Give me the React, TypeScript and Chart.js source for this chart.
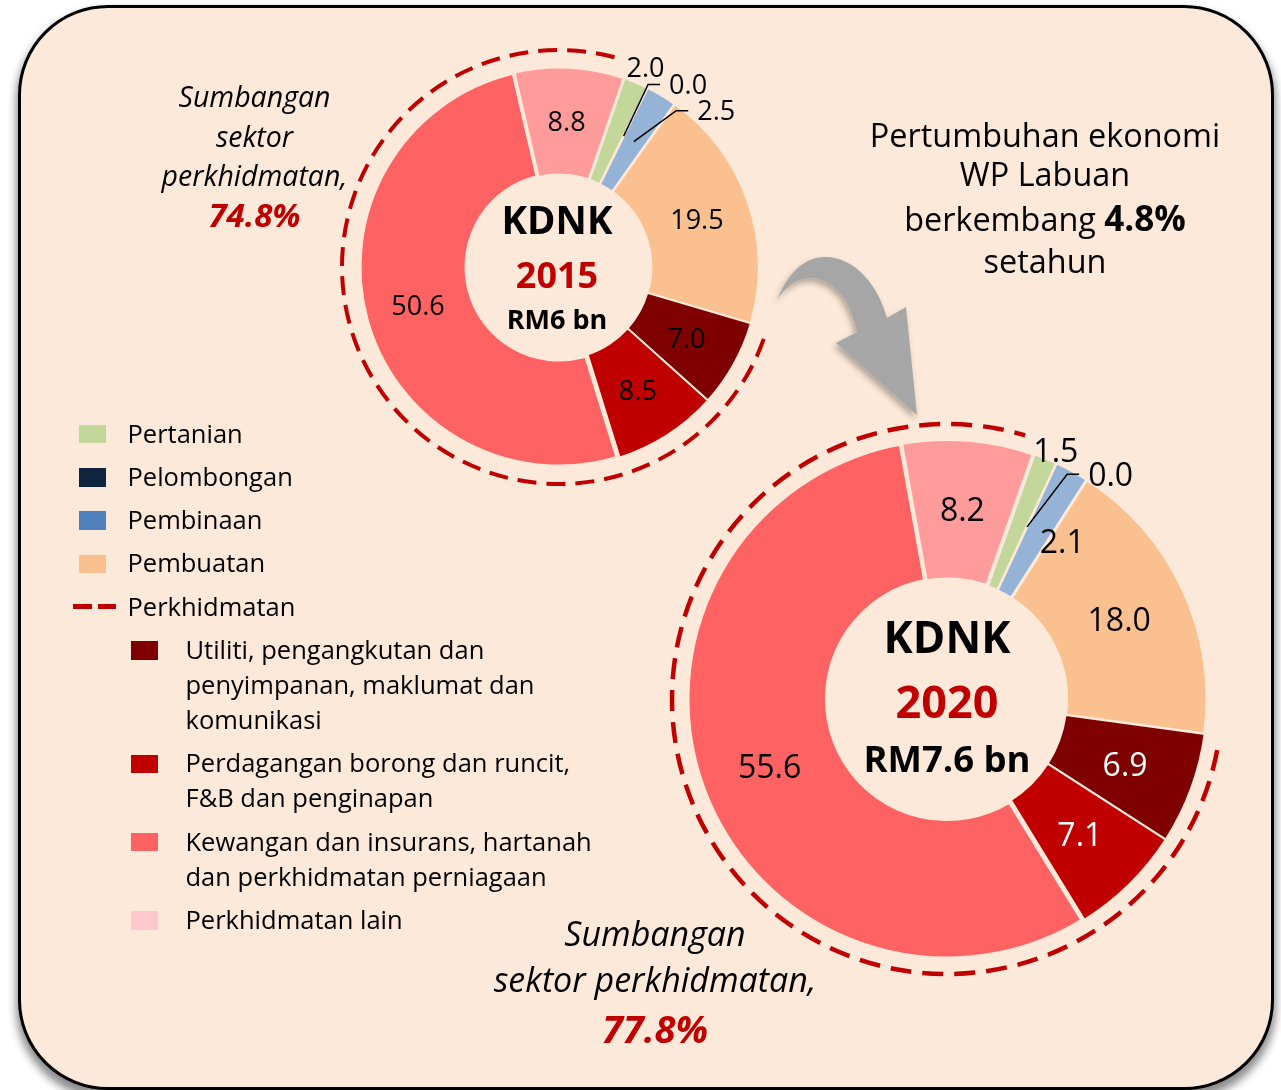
import React, { useEffect, useRef } from "react";
import { Chart, registerables } from "chart.js";

Chart.register(...registerables);

// ---------- data ----------
const sectorNames = [
  "Pertanian",
  "Pelombongan",
  "Pembinaan",
  "Pembuatan",
  "Utiliti, pengangkutan dan penyimpanan, maklumat dan komunikasi",
  "Perdagangan borong dan runcit, F&B dan penginapan",
  "Kewangan dan insurans, hartanah dan perkhidmatan perniagaan",
  "Perkhidmatan lain",
];
const values2015 = [2.0, 0.0, 2.5, 19.5, 7.0, 8.5, 50.6, 8.8];
const values2020 = [1.5, 0.0, 2.1, 18.0, 6.9, 7.1, 55.6, 8.2];
const servicesFirst = 4;
const servicesLast = 7;

const sliceColors = ["#C4D79B", "#10243E", "#95B3D7", "#FAC090", "#7F0000", "#C00000", "#FF6262", "#FF9B9B"];
const legendColors = ["#C4D79B", "#10243E", "#4F81BD", "#FAC090", "#7F0000", "#C00000", "#FF6262", "#FFC7CE"];

const mainLegend = [["Pertanian"], ["Pelombongan"], ["Pembinaan"], ["Pembuatan"]];
const servicesLegendTitle = "Perkhidmatan";
const subLegend = [
  ["Utiliti, pengangkutan dan", "penyimpanan, maklumat dan", "komunikasi"],
  ["Perdagangan borong dan runcit,", "F&B dan penginapan"],
  ["Kewangan dan insurans, hartanah", "dan perkhidmatan perniagaan"],
  ["Perkhidmatan lain"],
];

const centre2015 = ["KDNK", "2015", "RM6 bn"];
const centre2020 = ["KDNK", "2020", "RM7.6 bn"];
const share2015 = "74.8%";
const share2020 = "77.8%";
const growth = "4.8%";

// ---------- styles ----------
const FONT = '"Open Sans", "Noto Sans", sans-serif';
const BG = "#FDE9D9";
const RED = "#C00000";

type Place = { mode: "in" | "out"; ext?: number; dx?: number; dy?: number; leader?: boolean; color?: string };

const place2015: Place[] = [
  { mode: "out", ext: 17, dx: 3, dy: 1 },
  { mode: "out", ext: 17, dx: 33, dy: 12, leader: true },
  { mode: "out", ext: 17, dx: 46, dy: 30, leader: true },
  { mode: "in" },
  { mode: "in" },
  { mode: "in" },
  { mode: "in" },
  { mode: "in" },
];
const place2020: Place[] = [
  { mode: "out", ext: 12, dx: 6, dy: 3 },
  { mode: "out", ext: 12, dx: 49, dy: 22, leader: true },
  { mode: "in", dx: 24, dy: 9 },
  { mode: "in" },
  { mode: "in", color: "#FFFFFF" },
  { mode: "in", color: "#FFFFFF" },
  { mode: "in" },
  { mode: "in" },
];

type CentreLine = { size: number; dy: number; dx: number; color: string };
const centreStyle2015: CentreLine[] = [
  { size: 38.5, dy: -47, dx: -2, color: "#000" },
  { size: 36, dy: 8, dx: -2, color: RED },
  { size: 27, dy: 52, dx: -2, color: "#000" },
];
const centreStyle2020: CentreLine[] = [
  { size: 44, dy: -62, dx: 0, color: "#000" },
  { size: 45, dy: 3, dx: 0, color: RED },
  { size: 36.5, dy: 59.5, dx: 0, color: "#000" },
];

type DonutCfg = {
  values: number[];
  rotation: number;
  radius: number;
  size: number;
  cx: number;
  cy: number;
  places: Place[];
  labelSize: number;
  ringGap: number;
  ringWidth: number;
  dash: number[];
  centre: string[];
  centreStyle: CentreLine[];
  borderWidths: number[];
};

function overlayPlugin(cfg: DonutCfg) {
  return {
    id: "overlay",
    afterDatasetsDraw(chart: any) {
      const ctx: CanvasRenderingContext2D = chart.ctx;
      const arcs = chart.getDatasetMeta(0).data as any[];
      const a0 = arcs[0];
      const cx = a0.x;
      const cy = a0.y;
      const outer = a0.outerRadius;
      const inner = a0.innerRadius;
      const midR = (outer + inner) / 2;

      // dashed ring around the services slices
      const inset = (3 * Math.PI) / 180;
      ctx.save();
      ctx.strokeStyle = RED;
      ctx.lineWidth = cfg.ringWidth;
      ctx.setLineDash(cfg.dash);
      ctx.beginPath();
      ctx.arc(cx, cy, outer + cfg.ringGap, arcs[servicesFirst].startAngle + inset, arcs[servicesLast].endAngle - inset);
      ctx.stroke();
      ctx.restore();

      // value labels
      ctx.save();
      ctx.font = `${cfg.labelSize}px ${FONT}`;
      ctx.textAlign = "center";
      ctx.textBaseline = "alphabetic";
      arcs.forEach((arc: any, i: number) => {
        const p = cfg.places[i];
        const mid = (arc.startAngle + arc.endAngle) / 2;
        const r = p.mode === "in" ? midR : outer + (p.ext || 0);
        const x = cx + r * Math.cos(mid) + (p.dx || 0);
        const y = cy + r * Math.sin(mid) + (p.dy || 0);
        const text = cfg.values[i].toFixed(1);
        ctx.fillStyle = p.color || "#000";
        ctx.fillText(text, x, y + 0.357 * cfg.labelSize);
        if (p.leader) {
          const w = ctx.measureText(text).width;
          const left = x - w / 2;
          ctx.save();
          ctx.strokeStyle = "#000";
          ctx.lineWidth = 1.5;
          ctx.beginPath();
          ctx.moveTo(left - 9, y);
          ctx.lineTo(left - 21, y);
          ctx.lineTo(cx + midR * Math.cos(mid), cy + midR * Math.sin(mid));
          ctx.stroke();
          ctx.restore();
        }
      });
      ctx.restore();

      // centre text
      ctx.save();
      ctx.textAlign = "center";
      ctx.textBaseline = "alphabetic";
      cfg.centre.forEach((t, i) => {
        const st = cfg.centreStyle[i];
        ctx.font = `bold ${st.size}px ${FONT}`;
        ctx.fillStyle = st.color;
        ctx.fillText(t, cx + st.dx, cy + st.dy + 0.357 * st.size);
      });
      ctx.restore();
    },
  };
}

function Donut({ cfg }: { cfg: DonutCfg }) {
  const ref = useRef<HTMLCanvasElement>(null);
  useEffect(() => {
    const chart = new Chart(ref.current as HTMLCanvasElement, {
      type: "doughnut",
      data: {
        labels: sectorNames,
        datasets: [
          {
            data: cfg.values,
            backgroundColor: sliceColors,
            borderColor: BG,
            borderWidth: cfg.borderWidths,
          },
        ],
      },
      options: {
        responsive: false,
        animation: false,
        rotation: cfg.rotation,
        radius: cfg.radius,
        cutout: "46%",
        layout: { padding: 0 },
        events: [],
        plugins: { legend: { display: false }, tooltip: { enabled: false } },
      } as any,
      plugins: [overlayPlugin(cfg) as any],
    });
    return () => chart.destroy();
  }, []);
  return (
    <canvas
      ref={ref}
      width={cfg.size}
      height={cfg.size}
      style={{
        position: "absolute",
        left: cfg.cx - cfg.size / 2,
        top: cfg.cy - cfg.size / 2,
        width: cfg.size,
        height: cfg.size,
      }}
    />
  );
}

const cfg2015: DonutCfg = {
  values: values2015,
  rotation: 19,
  radius: 200,
  size: 520,
  cx: 559,
  cy: 267,
  places: place2015,
  labelSize: 27,
  ringGap: 17,
  ringWidth: 4,
  dash: [19, 10],
  centre: centre2015,
  centreStyle: centreStyle2015,
  borderWidths: [2.5, 2.5, 2.5, 2.5, 2, 2, 5, 3],
};
const cfg2020: DonutCfg = {
  values: values2020,
  rotation: 19.5,
  radius: 260,
  size: 640,
  cx: 947,
  cy: 699,
  places: place2020,
  labelSize: 32,
  ringGap: 15,
  ringWidth: 4.5,
  dash: [21, 11],
  centre: centre2020,
  centreStyle: centreStyle2020,
  borderWidths: [2.5, 2.5, 2.5, 3, 2, 2, 5, 4],
};

function TextLine({
  cx,
  baseline,
  size,
  children,
  style,
}: {
  cx: number;
  baseline: number;
  size: number;
  children: React.ReactNode;
  style?: React.CSSProperties;
}) {
  const lh = size * 1.4;
  const top = baseline - lh / 2 - 0.388 * size;
  return (
    <div
      style={{
        position: "absolute",
        left: cx - 300,
        width: 600,
        top,
        textAlign: "center",
        fontFamily: FONT,
        fontSize: size,
        lineHeight: `${lh}px`,
        whiteSpace: "nowrap",
        color: "#000",
        ...style,
      }}
    >
      {children}
    </div>
  );
}

const LEG_FONT = 25.5;
const LEG_LH = 35;
const LEG_GAP = 8.3;
const SW_TOP = LEG_LH / 2 + 0.388 * LEG_FONT - 0.714 * LEG_FONT;

function Legend() {
  const row: React.CSSProperties = { position: "relative", marginBottom: LEG_GAP };
  const sw = (left: number, color: string): React.CSSProperties => ({
    position: "absolute",
    left,
    top: SW_TOP,
    width: 27,
    height: 18.5,
    background: color,
  });
  return (
    <div
      style={{
        position: "absolute",
        left: 0,
        top: 443 - (LEG_LH / 2 + 0.388 * LEG_FONT),
        fontFamily: FONT,
        fontSize: LEG_FONT,
        lineHeight: `${LEG_LH}px`,
        color: "#000",
        whiteSpace: "nowrap",
      }}
    >
      {mainLegend.map((lines, i) => (
        <div key={"m" + i} style={row}>
          <div style={sw(79, legendColors[i])} />
          <div style={{ paddingLeft: 127.5 }}>
            {lines.map((l, j) => (
              <div key={j}>{l}</div>
            ))}
          </div>
        </div>
      ))}
      <div style={row}>
        <div style={{ position: "absolute", left: 73, top: LEG_LH / 2 - 2.5, width: 18.7, height: 5, background: RED }} />
        <div style={{ position: "absolute", left: 97.5, top: LEG_LH / 2 - 2.5, width: 18.7, height: 5, background: RED }} />
        <div style={{ paddingLeft: 127.5 }}>{servicesLegendTitle}</div>
      </div>
      {subLegend.map((lines, i) => (
        <div key={"s" + i} style={row}>
          <div style={sw(131, legendColors[servicesFirst + i])} />
          <div style={{ paddingLeft: 185.5 }}>
            {lines.map((l, j) => (
              <div key={j}>{l}</div>
            ))}
          </div>
        </div>
      ))}
    </div>
  );
}

export default function App() {
  return (
    <div style={{ position: "absolute", left: 0, top: 0, width: 1281, height: 1090, overflow: "hidden", background: "#FFFFFF" }}>
      <div
        style={{
          position: "absolute",
          left: 17.5,
          top: 4.5,
          width: 1256,
          height: 1085,
          boxSizing: "border-box",
          border: "3px solid #000",
          borderRadius: 90,
          background: BG,
          boxShadow: "0px 7px 9px 2px rgba(0,0,0,0.45)",
        }}
      />
      <Donut cfg={cfg2015} />
      <Donut cfg={cfg2020} />
      <svg
        width={1281}
        height={1090}
        viewBox="0 0 1281 1090"
        style={{ position: "absolute", left: 0, top: 0, pointerEvents: "none" }}
      >
        <defs>
          <filter id="sh" x="-20%" y="-20%" width="140%" height="140%">
            <feDropShadow dx="-2" dy="4" stdDeviation="3" floodColor="#000" floodOpacity="0.3" />
          </filter>
        </defs>
        <path
          d="M777,300 C790,268 808,257 825,257 C855,257 878,285 887,318 L906,307 L917,415 L836,343 L857,332 C850,300 835,280 812,278 C797,278 785,287 777,300 Z"
          fill="#A6A6A6"
          filter="url(#sh)"
        />
      </svg>
      <Legend />
      {/* 2015 services share */}
      <TextLine cx={254.5} baseline={108} size={28.5} style={{ fontStyle: "italic" }}>Sumbangan</TextLine>
      <TextLine cx={254.5} baseline={148} size={28.5} style={{ fontStyle: "italic" }}>sektor</TextLine>
      <TextLine cx={254.5} baseline={187} size={28.5} style={{ fontStyle: "italic" }}>perkhidmatan,</TextLine>
      <TextLine cx={254.5} baseline={228} size={33} style={{ fontStyle: "italic", fontWeight: 700, color: RED }}>{share2015}</TextLine>
      {/* growth note */}
      <TextLine cx={1045} baseline={147} size={32.4}>Pertumbuhan ekonomi</TextLine>
      <TextLine cx={1045} baseline={186.5} size={32.4}>WP Labuan</TextLine>
      <TextLine cx={1045} baseline={230.5} size={32.4}>
        berkembang <b style={{ fontSize: 35 }}>{growth}</b>
      </TextLine>
      <TextLine cx={1045} baseline={273} size={32.4}>setahun</TextLine>
      {/* 2020 services share */}
      <TextLine cx={655} baseline={947} size={34} style={{ fontStyle: "italic" }}>Sumbangan</TextLine>
      <TextLine cx={655} baseline={993} size={34} style={{ fontStyle: "italic" }}>sektor perkhidmatan,</TextLine>
      <TextLine cx={655} baseline={1043} size={38} style={{ fontStyle: "italic", fontWeight: 700, color: RED }}>{share2020}</TextLine>
    </div>
  );
}
